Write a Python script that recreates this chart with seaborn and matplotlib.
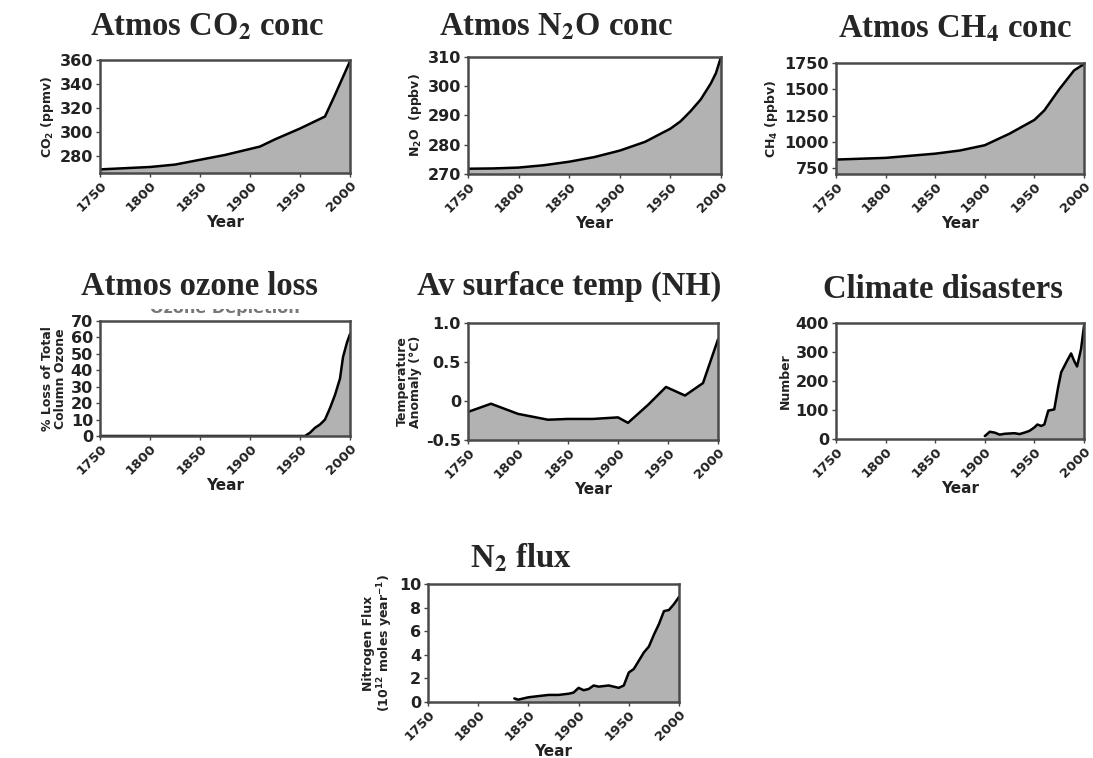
import numpy as np
import pandas as pd
import matplotlib
matplotlib.use("Agg")
import matplotlib.pyplot as plt
import seaborn as sns

sns.set_style("ticks")
plt.rcParams['font.family'] = ['DejaVu Sans']
plt.rcParams['mathtext.fontset'] = 'dejavusans'

# --- data ---
co2_year = [1750, 1800, 1825, 1850, 1875, 1900, 1910, 1925, 1950, 1965, 1975, 1985, 2000]
co2_val = [269, 271, 273, 277, 281, 286, 288, 294, 303, 309, 313, 331, 359]

n2o_year = [1750, 1775, 1800, 1825, 1850, 1875, 1900, 1925, 1950, 1960, 1970, 1980, 1990, 1995, 2000]
n2o_val = [271.8, 271.9, 272.2, 273.0, 274.2, 275.8, 278.0, 281.0, 285.5, 288.0, 291.5, 295.5, 301.0, 304.5, 310.0]

ch4_year = [1750, 1800, 1850, 1875, 1900, 1925, 1950, 1960, 1975, 1990, 2000]
ch4_val = [834, 850, 890, 920, 970, 1080, 1210, 1300, 1500, 1680, 1740]

ozone_year = [1750, 1955, 1960, 1965, 1970, 1975, 1980, 1985, 1990, 1993, 1997, 2000]
ozone_val = [0, 0, 2, 5, 7, 10, 17, 25, 35, 48, 57, 62]

temp_year = [1750, 1773, 1800, 1830, 1850, 1875, 1900, 1910, 1930, 1948, 1967, 1985, 2000]
temp_val = [-0.14, -0.035, -0.165, -0.24, -0.23, -0.23, -0.21, -0.28, -0.05, 0.18, 0.07, 0.23, 0.79]

dis_year = [1900, 1905, 1910, 1915, 1920, 1930, 1935, 1940, 1945, 1950, 1953, 1957, 1960,
            1964, 1967, 1970, 1974, 1977, 1980, 1983, 1987, 1990, 1993, 1997, 2000]
dis_val = [10, 25, 22, 15, 18, 20, 17, 22, 28, 40, 50, 45, 50,
           98, 100, 102, 180, 230, 250, 270, 295, 270, 250, 310, 390]

n2_year = [1836, 1840, 1850, 1860, 1870, 1880, 1890, 1895, 1900, 1905, 1910, 1915, 1920,
           1930, 1935, 1940, 1945, 1950, 1955, 1960, 1965, 1970, 1975, 1980, 1985, 1990, 1995, 2000]
n2_val = [0.3, 0.2, 0.4, 0.5, 0.6, 0.6, 0.7, 0.8, 1.2, 1.0, 1.1, 1.4, 1.3,
          1.4, 1.3, 1.2, 1.4, 2.5, 2.8, 3.5, 4.2, 4.7, 5.7, 6.6, 7.7, 7.8, 8.3, 8.9]

year_ticks = [1750, 1800, 1850, 1900, 1950, 2000]

W, H = 1093, 758
fig = plt.figure(figsize=(W / 100, H / 100), dpi=100)


def px_axes(x0, y0, x1, y1):
    return fig.add_axes([x0 / W, 1 - y1 / H, (x1 - x0) / W, (y1 - y0) / H])


def panel(box, years, vals, ylim, yticks, ylabel, title, title_xy, ytick_text=None):
    ax = px_axes(*box)
    df = pd.DataFrame({"Year": years, "val": vals})
    ax.fill_between(df["Year"], df["val"], ylim[0], color="#b2b2b2", lw=0)
    sns.lineplot(data=df, x="Year", y="val", ax=ax, color="black", lw=1.8)
    ax.set_xlim(1750, 2000)
    ax.set_ylim(*ylim)
    ax.set_xticks(year_ticks)
    ax.set_yticks(yticks)
    ax.set_xticklabels([str(y) for y in year_ticks], rotation=45, ha="right",
                       rotation_mode="anchor", fontsize=9.5, fontweight="bold", color="#222")
    if ytick_text is None:
        ytick_text = [str(t) for t in yticks]
    ax.set_yticklabels(ytick_text, fontsize=11.5, fontweight="bold", color="#222")
    ax.tick_params(length=3, width=1, color="#444", pad=2)
    ax.tick_params(axis="x", pad=1.5)
    ax.set_xlabel("Year", fontsize=11, fontweight="bold", labelpad=0, color="#222")
    ax.set_ylabel(ylabel, fontsize=9, fontweight="bold", labelpad=3, linespacing=1.0, color="#222")
    for s in ax.spines.values():
        s.set_color("#4a4a4a")
        s.set_linewidth(1.8)
    fig.text(title_xy[0] / W, 1 - title_xy[1] / H, title, ha="center", va="baseline",
             fontsize=23.5, fontweight="bold", family="Liberation Serif", math_fontfamily="stix")
    return ax


panel((100, 60, 350, 173), co2_year, co2_val, (266, 360), [280, 300, 320, 340, 360],
      "CO$_\\mathbf{2}$ (ppmv)", "Atmos CO$_\\mathbf{2}$ conc", (207, 35))
panel((468, 57, 721, 174), n2o_year, n2o_val, (270, 310), [270, 280, 290, 300, 310],
      "N$_\\mathbf{2}$O  (ppbv)", "Atmos N$_\\mathbf{2}$O conc", (556, 35))
panel((836, 63, 1084, 174), ch4_year, ch4_val, (697, 1750), [750, 1000, 1250, 1500, 1750],
      "CH$_\\mathbf{4}$ (ppbv)", "Atmos CH$_\\mathbf{4}$ conc", (955, 38))
panel((100, 321, 350, 436), ozone_year, ozone_val, (0, 70), [0, 10, 20, 30, 40, 50, 60, 70],
      "% Loss of Total\nColumn Ozone", "Atmos ozone loss", (199, 295))
panel((468, 323, 718, 440), temp_year, temp_val, (-0.5, 1.0), [-0.5, 0, 0.5, 1.0],
      "Temperature\nAnomaly (°C)", "Av surface temp (NH)", (569, 295),
      ytick_text=["-0.5", "0", "0.5", "1.0"])
panel((836, 323, 1084, 439), dis_year, dis_val, (0, 400), [0, 100, 200, 300, 400],
      "Number", "Climate disasters", (943, 298))
panel((428, 584, 679, 702), n2_year, n2_val, (0, 10), [0, 2, 4, 6, 8, 10],
      "Nitrogen Flux\n(10$^{\\mathbf{12}}$ moles year$^{\\mathbf{-1}}$)", "N$_\\mathbf{2}$ flux", (521, 568))

# half-hidden subtitle left over under the ozone title
cap = px_axes(130, 309, 320, 318)
cap.axis("off")
cap.text(0.5, 1.1, "Ozone Depletion", transform=cap.transAxes, ha="center", va="center",
         fontsize=11.5, fontweight="bold", color="#777", clip_on=True)

fig.savefig("out.png", dpi=100)
